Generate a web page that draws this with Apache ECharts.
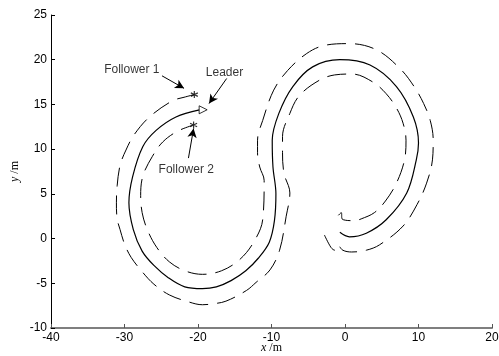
<!DOCTYPE html>
<html>
<head>
<meta charset="utf-8">
<script src="https://cdn.jsdelivr.net/npm/echarts@6/dist/echarts.min.js"></script>
<style>html,body{margin:0;padding:0;background:#fff}#c{width:499px;height:356px}</style>
</head>
<body>
<div id="c"></div>
<script>
// ---- data ----
const xTicks = [-40, -30, -20, -10, 0, 10, 20];
const yTicks = [-10, -5, 0, 5, 10, 15, 20, 25];

const leaderX = [-0.7, 0.6, 2.9, 5.6, 8.4, 9.7, 10.0, 9.3, 7.0, 3.4, -0.7, -4.4, -7.1, -9.0, -9.9, -9.8, -9.4, -9.6, -10.3, -11.8, -13.5, -15.5, -17.5, -19.4, -21.8, -24.0, -26.0, -27.6, -28.8, -29.4, -28.9, -27.5, -25.7, -23.0, -19.8];
const leaderY = [0.7, 0.2, 0.6, 2.1, 5.1, 8.8, 10.7, 13.6, 17.0, 19.4, 20.0, 19.2, 17.0, 14.0, 11.0, 8.0, 5.0, 2.0, -0.4, -2.2, -3.6, -4.7, -5.4, -5.6, -5.4, -4.4, -3.0, -1.4, 1.0, 4.0, 6.9, 10.3, 12.1, 13.6, 14.4];

const follower1X = [-0.9, -0.5, -0.4, 1.3, 2.2, 4.0, 5.5, 7.0, 8.1, 8.3, 7.9, 7.0, 5.6, 3.8, 1.0, -1.4, -3.5, -6.2, -7.5, -8.5, -8.5, -8.3, -7.5, -8.0, -8.9, -10.2, -12.1, -13.4, -16.2, -18.0, -19.4, -21.2, -23.9, -26.0, -27.5, -29.1, -30.0, -30.6, -31.0, -31.1, -31.0, -30.6, -29.8, -28.7, -26.6, -23.5, -21.9, -20.5];
const follower1Y = [2.6, 2.9, 2.2, 2.0, 2.2, 2.9, 4.2, 6.2, 8.8, 11.0, 12.9, 14.6, 16.2, 17.5, 18.4, 18.3, 17.7, 16.0, 14.0, 11.4, 9.6, 7.3, 5.1, 2.5, -1.3, -3.5, -4.9, -5.8, -7.0, -7.3, -7.4, -7.1, -6.3, -5.1, -3.8, -2.1, -0.6, 1.0, 2.2, 4.0, 5.9, 8.2, 9.9, 11.6, 13.6, 15.4, 15.8, 16.1];

const follower2X = [-2.8, -1.9, -1.4, -1.0, -0.3, 0.9, 2.9, 4.7, 7.9, 9.8, 11.1, 11.9, 12.0, 11.6, 10.7, 9.4, 7.5, 4.3, 0.6, -2.8, -5.2, -7.8, -9.7, -11.2, -11.9, -11.9, -11.6, -11.0, -11.2, -12.5, -14.4, -16.8, -19.4, -21.8, -23.9, -25.6, -26.9, -27.6, -27.8, -27.5, -26.2, -24.8, -22.8, -20.6];
const follower2Y = [0.4, -1.0, -1.3, -0.7, -1.3, -1.5, -1.3, -0.7, 1.4, 3.8, 6.2, 8.8, 11.0, 13.2, 15.1, 17.0, 19.0, 21.1, 21.8, 21.6, 20.7, 18.8, 16.6, 13.2, 11.0, 9.6, 8.0, 6.5, 2.1, -0.5, -2.4, -3.6, -4.0, -3.6, -2.6, -1.0, 1.0, 2.9, 4.8, 7.0, 9.2, 10.8, 12.0, 12.7];

const leaderEnd = [-19.3, 14.4];
const follower1End = [-20.5, 16.1];
const follower2End = [-20.6, 12.7];

const annoText = ['Follower 1', 'Leader', 'Follower 2'];
const annoTextX = [-29.0, -16.4, -21.6];
const annoTextY = [18.85, 18.6, 7.7];
const arrowFromX = [-24.9, -16.1, -21.3];
const arrowFromY = [18.2, 17.9, 9.0];
const arrowToX = [-21.9, -18.5, -20.6];
const arrowToY = [16.8, 15.1, 12.3];

// ---- build ----
const zip = (xs, ys) => xs.map((x, i) => [x, ys[i]]);
const starPath = 'path://M0,-5L0,5M-4.33,-2.5L4.33,2.5M-4.33,2.5L4.33,-2.5M-0.1,0L0.1,0';

const chart = echarts.init(document.getElementById('c'), null, {renderer: 'canvas'});
const tickFont = {fontFamily: 'Liberation Sans, Arial, sans-serif', fontSize: 12, color: '#000'};

chart.setOption({
  animation: false,
  backgroundColor: '#fff',
  grid: {left: 51, right: 7, top: 15, bottom: 28, containLabel: false, outerBoundsMode: 'none'},
  xAxis: {
    type: 'value', min: xTicks[0], max: xTicks[xTicks.length - 1], interval: 10,
    name: '{i|x} /m', nameLocation: 'middle', nameGap: 14, nameMoveOverlap: false,
    nameTextStyle: {fontFamily: 'Liberation Serif, Times New Roman, serif', fontSize: 12, color: '#000',
      rich: {i: {fontStyle: 'italic', fontFamily: 'Liberation Serif, serif', fontSize: 12, color: '#000'}}},
    axisLine: {onZero: false, lineStyle: {color: '#7f7f7f', width: 2}},
    axisTick: {inside: true, length: 4, lineStyle: {color: '#555', width: 1}},
    axisLabel: Object.assign({margin: 4}, tickFont),
    splitLine: {show: false}
  },
  yAxis: {
    type: 'value', min: yTicks[0], max: yTicks[yTicks.length - 1], interval: 5,
    name: '{i|y} /m', nameLocation: 'middle', nameGap: 30, nameRotate: 90, nameMoveOverlap: false,
    nameTextStyle: {fontFamily: 'Liberation Serif, Times New Roman, serif', fontSize: 12, color: '#000',
      rich: {i: {fontStyle: 'italic', fontFamily: 'Liberation Serif, serif', fontSize: 12, color: '#000'}}},
    axisLine: {onZero: false, lineStyle: {color: '#000', width: 1}},
    axisTick: {inside: true, length: 4, lineStyle: {color: '#000', width: 1}},
    axisLabel: Object.assign({margin: 4}, tickFont),
    splitLine: {show: false}
  },
  series: [
    {
      name: 'Leader', type: 'line', data: zip(leaderX, leaderY), smooth: 0.35, showSymbol: false,
      lineStyle: {color: '#000', width: 1.2}, z: 3,
      markLine: {
        silent: true, symbol: ['none', 'arrow'], symbolSize: [7, 9],
        lineStyle: {color: '#000', type: 'solid', width: 1}, label: {show: false},
        data: arrowFromX.map((x, i) => [{coord: [x, arrowFromY[i]]}, {coord: [arrowToX[i], arrowToY[i]]}])
      }
    },
    {
      name: 'Follower 1', type: 'line', data: zip(follower1X, follower1Y), smooth: 0.35, showSymbol: false,
      lineStyle: {color: '#000', width: 1, type: [19, 9]}
    },
    {
      name: 'Follower 2', type: 'line', data: zip(follower2X, follower2Y), smooth: 0.35, showSymbol: false,
      lineStyle: {color: '#000', width: 1, type: [19, 9]}
    },
    {
      type: 'scatter', data: [leaderEnd], symbol: 'triangle', symbolRotate: -90, symbolSize: 8,
      itemStyle: {color: '#fff', borderColor: '#000', borderWidth: 1}, z: 5
    },
    {
      type: 'scatter', data: [follower1End, follower2End], symbol: starPath, symbolSize: 7,
      itemStyle: {color: 'none', borderColor: '#000', borderWidth: 1.2}, z: 5
    },
    {
      type: 'scatter', symbolSize: 1, itemStyle: {color: 'transparent'},
      data: annoText.map((t, i) => ({name: t, value: [annoTextX[i], annoTextY[i]]})),
      label: {show: true, position: 'inside', formatter: '{b}', fontFamily: 'Liberation Sans, Arial, sans-serif', fontSize: 12, color: '#000'}
    }
  ]
});
</script>
</body>
</html>
